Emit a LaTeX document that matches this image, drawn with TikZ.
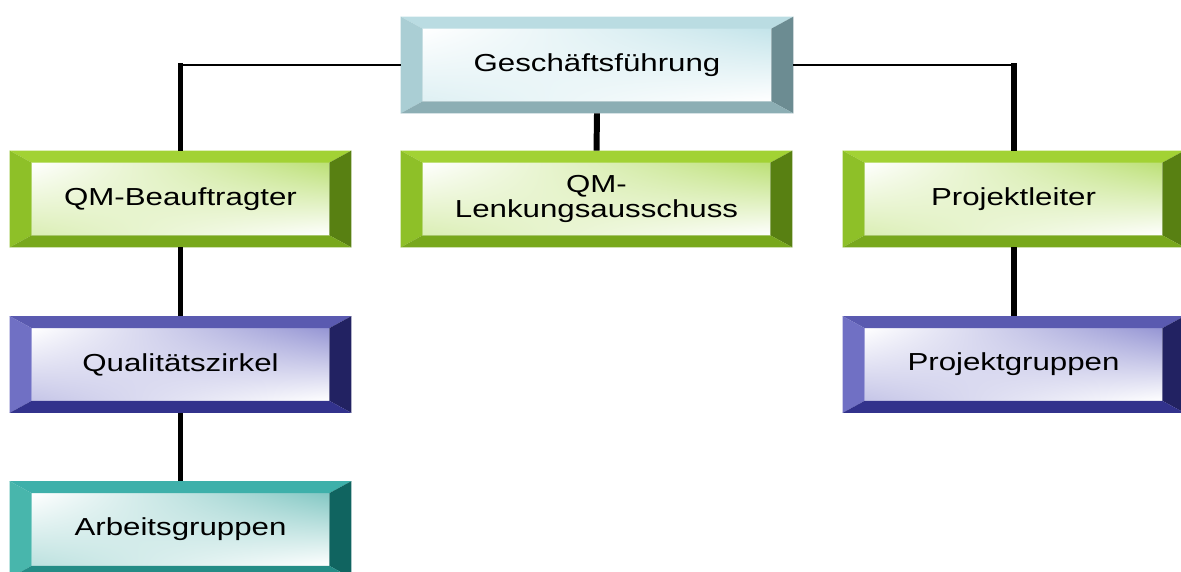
\documentclass[tikz,border=0pt]{standalone}
\usepackage{fontspec}
\setmainfont{Liberation Sans}
\usetikzlibrary{calc,shadings}

\definecolor{gfface}{RGB}{196,228,234}
\definecolor{gftop}{RGB}{186,220,226}
\definecolor{gfleft}{RGB}{170,206,212}
\definecolor{gfright}{RGB}{108,140,146}
\definecolor{gfbot}{RGB}{140,174,180}
\definecolor{grface}{RGB}{188,224,118}
\definecolor{grtop}{RGB}{162,210,52}
\definecolor{grleft}{RGB}{142,192,40}
\definecolor{grright}{RGB}{88,128,18}
\definecolor{grbot}{RGB}{120,168,28}
\definecolor{puface}{RGB}{150,150,212}
\definecolor{putop}{RGB}{90,90,176}
\definecolor{puleft}{RGB}{112,112,196}
\definecolor{puright}{RGB}{34,34,98}
\definecolor{pubot}{RGB}{50,50,140}
\definecolor{tqface}{RGB}{132,200,196}
\definecolor{tqtop}{RGB}{62,176,170}
\definecolor{tqleft}{RGB}{72,182,172}
\definecolor{tqright}{RGB}{16,100,96}
\definecolor{tqbot}{RGB}{36,140,134}

% bevel round a face node: name, top, left, right, bottom
\newcommand{\bevel}[5]{%
\fill[#2] ($(#1.north west)+(-0.44,0.24)$) -- ($(#1.north east)+(0.44,0.24)$) -- (#1.north east) -- (#1.north west) -- cycle;
\fill[#3] ($(#1.north west)+(-0.44,0.24)$) -- (#1.north west) -- (#1.south west) -- ($(#1.south west)+(-0.44,-0.24)$) -- cycle;
\fill[#4] ($(#1.north east)+(0.44,0.24)$) -- (#1.north east) -- (#1.south east) -- ($(#1.south east)+(0.44,-0.24)$) -- cycle;
\fill[#5] ($(#1.south west)+(-0.44,-0.24)$) -- ($(#1.south east)+(0.44,-0.24)$) -- (#1.south east) -- (#1.south west) -- cycle;
}

\begin{document}
\begin{tikzpicture}[
  face/.style={minimum height=1.44cm, inner sep=0pt, align=center,
    font=\fontsize{14}{14}\selectfont,
    upper left=white, lower right=white,
    upper right=#1, lower left=#1!55!white},
  hline/.style={line width=1.7pt},
  vline/.style={line width=3.4pt}]
\useasboundingbox (0,0) rectangle (23.62,-11.44);

\node[face=gfface, minimum width=6.96cm] (gf) at (11.94,-1.30) {\scalebox{1.27}[1]{Geschäftsführung}};
\node[face=grface, minimum width=5.94cm] (qmb) at (3.61,-3.98) {\scalebox{1.27}[1]{QM-Beauftragter}};
\node[face=grface, minimum width=6.94cm] (qml) at (11.93,-3.98) {\scalebox{1.27}[1]{QM-}\\\scalebox{1.27}[1]{Lenkungsausschuss}};
\node[face=grface, minimum width=5.94cm] (pl) at (20.27,-3.98) {\scalebox{1.27}[1]{Projektleiter}};
\node[face=puface, minimum width=5.94cm] (qz) at (3.61,-7.29) {\scalebox{1.27}[1]{Qualitätszirkel}};
\node[face=puface, minimum width=5.94cm] (pg) at (20.27,-7.29) {\scalebox{1.27}[1]{Projektgruppen}};
\node[face=tqface, minimum width=5.94cm] (ag) at (3.61,-10.59) {\scalebox{1.27}[1]{Arbeitsgruppen}};

\bevel{gf}{gftop}{gfleft}{gfright}{gfbot}
\bevel{qmb}{grtop}{grleft}{grright}{grbot}
\bevel{qml}{grtop}{grleft}{grright}{grbot}
\bevel{pl}{grtop}{grleft}{grright}{grbot}
\bevel{qz}{putop}{puleft}{puright}{pubot}
\bevel{pg}{putop}{puleft}{puright}{pubot}
\bevel{ag}{tqtop}{tqleft}{tqright}{tqbot}

% connectors start at the outer bevel edges
\draw[hline] ([xshift=-0.44cm]gf.west) -- (gf.west -| qmb.north);
\draw[vline] ([yshift=0.03cm]gf.west -| qmb.north) -- ([yshift=0.24cm]qmb.north);
\draw[hline] ([xshift=0.44cm]gf.east) -- (gf.east -| pl.north);
\draw[vline] ([yshift=0.03cm]gf.east -| pl.north) -- ([yshift=0.24cm]pl.north);
\draw[vline] ([yshift=-0.24cm]gf.south) -- ([yshift=0.24cm]qml.north);
\draw[vline] ([yshift=-0.24cm]qmb.south) -- ([yshift=0.24cm]qz.north);
\draw[vline] ([yshift=-0.24cm]qz.south) -- ([yshift=0.24cm]ag.north);
\draw[vline] ([yshift=-0.24cm]pl.south) -- ([yshift=0.24cm]pg.north);
\end{tikzpicture}
\end{document}
